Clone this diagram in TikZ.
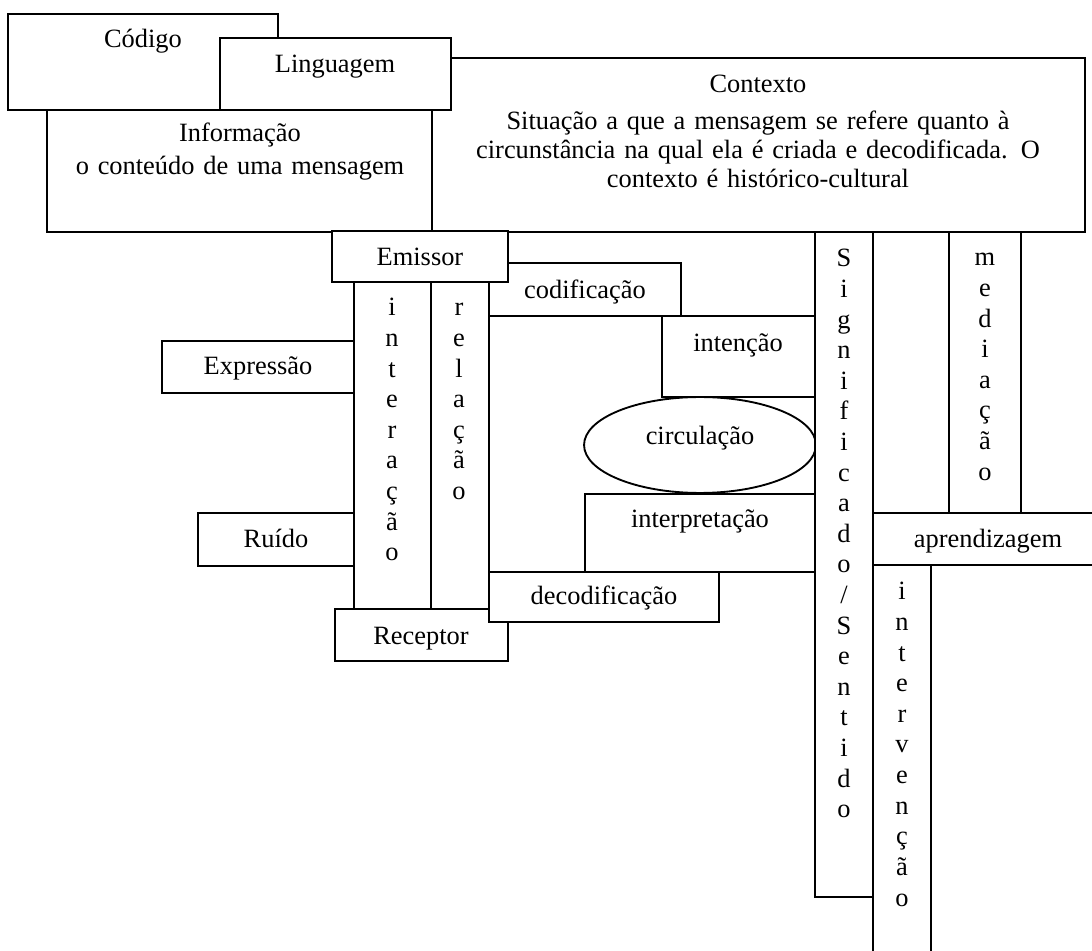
\documentclass[tikz,border=0pt]{standalone}
\usepackage{fontspec}
\setmainfont{Liberation Serif}
\tikzset{
  mybox/.style={draw=black,fill=white,line width=0.85pt},
  mytext/.style={inner sep=0pt,anchor=base,font=\fontsize{12pt}{13.2pt}\selectfont},
  mypar/.style={mytext,text width=300pt,align=center}
}

\begin{document}
\begin{tikzpicture}[x=0.4545pt,y=-0.4545pt]
  \useasboundingbox (0,0) rectangle (1092,951);
  \clip (0,0) rectangle (1092,951);
  % top boxes
  \draw[mybox] (432,58) rectangle (1085,232);
  \draw[mybox] (47,110) rectangle (432,232);
  \draw[mybox] (8,14) rectangle (278,110);
  \draw[mybox] (220,38) rectangle (451,110);
  \node[mytext] (codigo) at (143,48) {Código};
  \node[mytext] (linguagem) at (335,73) {Linguagem};
  \node[mypar] (informacao) at (240,142) {Informação\\[1.8pt]o conteúdo de uma mensagem};
  \node[mypar] (contexto) at (758,93) {Contexto\\[3.5pt]Situação a que a mensagem se refere quanto à\\circunstância na qual ela é criada e decodificada. O\\contexto é histórico-cultural};
  % emissor, receptor and the middle
  \draw[mybox] (489,263) rectangle (681,316);
  \node[mytext] (codificacao) at (585,299) {codificação};
  \draw[mybox] (332,231) rectangle (508,282);
  \node[mytext] (emissor) at (420,266) {Emissor};
  \draw[mybox] (354,282) rectangle (431,609);
  \draw[mybox] (431,282) rectangle (489,609);
  \foreach \ch [count=\k from 0] in {i,n,t,e,r,a,ç,ã,o}
    \node[mytext] (interacao-\k) at (392,{316+30.6*\k}) {\ch};
  \foreach \ch [count=\k from 0] in {r,e,l,a,ç,ã,o}
    \node[mytext] (relacao-\k) at (459,{316+30.6*\k}) {\ch};
  \draw[mybox] (162,341) rectangle (354,393);
  \node[mytext] (expressao) at (258,375) {Expressão};
  \draw[mybox] (198,513) rectangle (354,566);
  \node[mytext] (ruido) at (276,548) {Ruído};
  \draw[mybox] (662,316) rectangle (815,397);
  \node[mytext] (intencao) at (738,352) {intenção};
  \draw[mybox] (700,445) ellipse [x radius=52.7pt,y radius=21.8pt];
  \node[mytext] (circulacao) at (700,445) {circulação};
  \draw[mybox] (585,494) rectangle (815,572);
  \node[mytext] (interpretacao) at (700,528) {interpretação};
  \draw[mybox] (335,609) rectangle (508,661);
  \node[mytext] (receptor) at (421,645) {Receptor};
  \draw[mybox] (489,572) rectangle (719,622);
  \node[mytext] (decodificacao) at (604,605) {decodificação};
  % right columns
  \draw[mybox] (815,232) rectangle (873,897);
  \foreach \ch [count=\k from 0] in {S,i,g,n,i,f,i,c,a,d,o,{/},S,e,n,t,i,d,o}
    \node[mytext] (significado-\k) at (844,{267+30.6*\k}) {\ch};
  \draw[mybox] (949,232) rectangle (1021,513);
  \foreach \ch [count=\k from 0] in {m,e,d,i,a,ç,ã,o}
    \node[mytext] (mediacao-\k) at (985,{266+30.6*\k}) {\ch};
  \draw[mybox] (873,513) rectangle (1103,565);
  \node[mytext] (aprendizagem) at (988,548) {aprendizagem};
  \draw[mybox] (873,565) rectangle (931,960);
  \foreach \ch [count=\k from 0] in {i,n,t,e,r,v,e,n,ç,ã,o}
    \node[mytext] (intervencao-\k) at (902,{600+30.6*\k}) {\ch};
\end{tikzpicture}
\end{document}
